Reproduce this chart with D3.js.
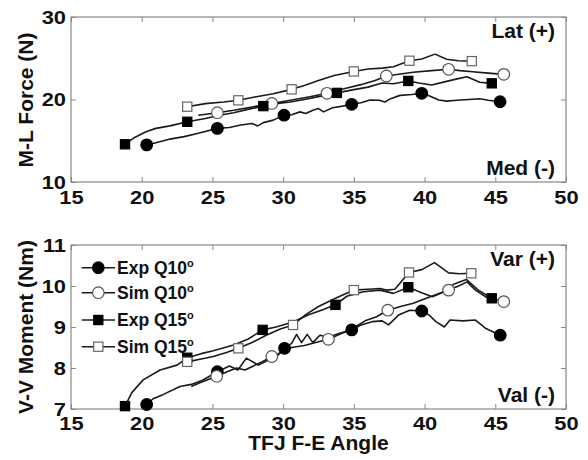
<!DOCTYPE html>
<html><head><meta charset="utf-8">
<script src="https://cdn.jsdelivr.net/npm/d3@7"></script>
<style>
html,body{margin:0;padding:0;background:#fff;}
text{font-family:"Liberation Sans",Arial,sans-serif;font-weight:bold;fill:#111;}
</style></head>
<body><svg id="c" width="588" height="460"></svg>
<script>
// ---------- data ----------
const xTicks = [15,20,25,30,35,40,45,50];
const mlTicks = [10,20,30];
const vvTicks = [7,8,9,10,11];
const seriesNames = ["Exp Q10", "Sim Q10", "Exp Q15", "Sim Q15"];

// M-L Force (N) vs TFJ F-E angle
const expQ10_ml = [[20.35,14.5],[21,14.75],[22,15.2],[23,15.5],[24,15.9],[25.35,16.5],[26.2,16.6],[27,16.9],[27.8,17.1],[28.2,16.8],[28.6,17.2],[29.3,17.5],[30.06,18.1],[30.6,18.15],[31.2,18.5],[31.6,18.3],[32.1,18.7],[32.5,18.9],[32.85,18.5],[33.5,19.0],[34.2,19.2],[34.85,19.42],[35.5,19.6],[36.15,19.94],[36.8,19.9],[37.2,19.7],[37.6,20.1],[38.27,20.5],[39.1,20.6],[39.8,20.75],[40.4,20.4],[41,19.94],[41.56,19.8],[42.3,19.9],[43.1,20.0],[43.9,20.1],[44.5,19.9],[45.34,19.73]];
const expQ10_ml_pts = [[20.35,14.5],[25.35,16.5],[30.06,18.1],[34.85,19.42],[39.8,20.75],[45.34,19.73]];
const simQ10_ml = [[24,18.1],[25.35,18.4],[26.5,18.7],[27.8,19.1],[29.2,19.52],[30.5,19.9],[31.8,20.3],[33.1,20.75],[34.3,21.3],[35.5,21.8],[36.5,22.3],[37.3,22.85],[38.3,23.1],[39.2,23.3],[40.5,23.5],[41.7,23.66],[42.5,23.5],[43.4,23.37],[44.5,23.2],[45.6,23.05]];
const simQ10_ml_pts = [[25.35,18.4],[29.2,19.52],[33.1,20.75],[37.3,22.85],[41.7,23.66],[45.6,23.05]];
const expQ15_ml = [[18.82,14.57],[19.5,15.4],[20.3,16.1],[21,16.5],[22,16.8],[23.22,17.3],[24.5,17.7],[25.5,18.1],[26.5,18.4],[27.5,18.8],[28.6,19.2],[29.5,19.5],[30.5,19.7],[31.5,20.0],[32.5,20.35],[33.8,20.8],[35,21.2],[36,21.5],[37,22.0],[37.8,21.9],[38.85,22.25],[39.6,22.0],[40.5,21.75],[41.56,22.2],[42.3,22.5],[43,22.76],[43.9,22.1],[44.75,21.96]];
const expQ15_ml_pts = [[18.82,14.57],[23.22,17.3],[28.6,19.2],[33.8,20.8],[38.85,22.25],[44.75,21.96]];
const simQ15_ml = [[23.22,19.13],[24.5,19.5],[25.8,19.7],[26.83,19.9],[28,20.3],[29.3,20.7],[30.6,21.23],[31.5,21.7],[32.5,22.3],[33.6,22.9],[35,23.4],[36,23.7],[37,23.8],[37.8,23.97],[38.93,24.7],[39.8,24.9],[40.74,25.5],[41.56,24.87],[42.4,24.7],[43.34,24.65]];
const simQ15_ml_pts = [[23.22,19.13],[26.83,19.9],[30.6,21.23],[35,23.4],[38.93,24.7],[43.34,24.65]];

// V-V Moment (Nm) vs TFJ F-E angle
const expQ10_vv = [[20.35,7.11],[20.8,7.25],[21.5,7.35],[22.7,7.55],[23.5,7.6],[24.3,7.7],[25.35,7.91],[26.2,8.05],[26.8,7.95],[27.4,8.24],[28.25,8.07],[29,8.2],[29.6,8.3],[30.1,8.48],[30.6,8.6],[30.95,8.82],[31.3,8.62],[31.7,8.82],[32.1,8.62],[32.6,8.8],[33.2,8.75],[34,8.85],[34.85,8.93],[35.5,9.05],[36.3,9.13],[37,9.15],[37.45,9.05],[38.2,9.3],[38.95,9.41],[39.8,9.39],[40.3,9.3],[40.8,9.13],[41.4,9.0],[41.8,9.17],[42.7,9.15],[43.6,9.17],[44.3,8.97],[45.35,8.8]];
const expQ10_vv_pts = [[20.35,7.11],[25.35,7.91],[30.1,8.48],[34.85,8.93],[39.8,9.39],[45.35,8.8]];
const simQ10_vv = [[23.5,7.55],[24.2,7.65],[25.3,7.8],[26,7.9],[26.7,8.0],[27.3,7.95],[27.9,8.05],[28.5,8.15],[29.2,8.28],[30,8.4],[30.6,8.5],[31.5,8.55],[32.3,8.62],[33.2,8.7],[34,8.82],[34.85,8.95],[35.8,9.15],[36.6,9.25],[37.4,9.41],[38.3,9.5],[39.2,9.58],[40.4,9.74],[41.7,9.9],[42.4,10.0],[43,10.1],[43.6,9.9],[44.4,9.72],[45.6,9.62]];
const simQ10_vv_pts = [[25.3,7.8],[29.2,8.28],[33.2,8.7],[37.4,9.41],[41.7,9.9],[45.6,9.62]];
const expQ15_vv = [[18.82,7.07],[19.3,7.4],[20.1,7.71],[21.3,7.95],[22.5,8.07],[23.22,8.25],[24.2,8.35],[25.06,8.42],[26.5,8.56],[27.5,8.7],[28.55,8.93],[29.5,9.0],[30.7,9.12],[31.8,9.3],[32.8,9.42],[33.7,9.54],[34.5,9.75],[35.67,9.86],[36.85,9.9],[37.8,9.82],[38.85,9.97],[39.7,9.85],[40.55,9.74],[41.3,9.85],[42.1,10.05],[42.95,10.16],[43.8,9.9],[44.75,9.7]];
const expQ15_vv_pts = [[18.82,7.07],[23.22,8.25],[28.55,8.93],[33.7,9.54],[38.85,9.97],[44.75,9.7]];
const simQ15_vv = [[23.22,8.15],[24.2,8.22],[25.06,8.28],[26,8.38],[26.83,8.48],[27.8,8.62],[28.8,8.8],[29.8,8.95],[30.7,9.05],[31.6,9.3],[32.5,9.5],[33.7,9.7],[35,9.9],[36,9.92],[36.85,9.94],[37.3,9.9],[37.9,9.92],[38.9,10.33],[39.8,10.4],[40.7,10.57],[41.7,10.32],[42.5,10.3],[43.3,10.31]];
const simQ15_vv_pts = [[23.22,8.15],[26.83,8.48],[30.7,9.05],[35,9.9],[38.9,10.33],[43.3,10.31]];

// ---------- drawing ----------
const svg = d3.select("#c");
const L = 71, R = 566;
const styles = [
  {shape:"circle", fill:"#000", stroke:"#000"},
  {shape:"circle", fill:"#fff", stroke:"#555"},
  {shape:"square", fill:"#000", stroke:"#000"},
  {shape:"square", fill:"#fff", stroke:"#666"}
];

function drawMarker(g, x, y, st) {
  if (st.shape === "circle") {
    g.append("circle").attr("cx", x).attr("cy", y).attr("r", 5.8)
      .attr("fill", st.fill).attr("stroke", st.stroke).attr("stroke-width", 1.2);
  } else {
    g.append("rect").attr("x", x - 4.6).attr("y", y - 4.6).attr("width", 9.2).attr("height", 9.2)
      .attr("fill", st.fill).attr("stroke", st.stroke).attr("stroke-width", 1.2);
  }
}

function styleTicks(a) {
  a.select(".domain").remove();
  a.selectAll(".tick line").attr("stroke", "#888").attr("stroke-width", 1);
  a.selectAll("text").style("font-size", "19px").style("font-family", "Liberation Sans, Arial, sans-serif")
    .style("font-weight", "bold").attr("fill", "#111");
}

function panel(top, bottom, yDomain, yTicks, lines, pts, yLabel, upTxt, downTxt, labelCenter, xPad) {
  const x = d3.scaleLinear().domain([15, 50]).range([L, R]);
  const y = d3.scaleLinear().domain(yDomain).range([bottom, top]);
  const g = svg.append("g");

  // inner ticks on all four sides
  const axB = d3.axisBottom(x).tickValues(xTicks).tickSize(-5).tickFormat(d3.format("d")).tickPadding(xPad);
  const axT = d3.axisTop(x).tickValues(xTicks).tickSize(-5).tickFormat("");
  const axLf = d3.axisLeft(y).tickValues(yTicks).tickSize(-5).tickFormat(d3.format("d")).tickPadding(5);
  const axRt = d3.axisRight(y).tickValues(yTicks).tickSize(-5).tickFormat("");
  const gb = g.append("g").attr("transform", `translate(0,${bottom})`).call(axB);
  const gt = g.append("g").attr("transform", `translate(0,${top})`).call(axT);
  const gl = g.append("g").attr("transform", `translate(${L},0)`).call(axLf);
  const gr = g.append("g").attr("transform", `translate(${R},0)`).call(axRt);
  [gb, gt, gl, gr].forEach(styleTicks);
  // wider digits, as in the reference
  gb.selectAll(".tick text").attr("transform", "scale(1.15,1)");
  gl.selectAll(".tick text").attr("transform", "scale(1.15,1)").attr("x", -5 / 1.15);

  g.append("rect").attr("x", L).attr("y", top).attr("width", R - L).attr("height", bottom - top)
    .attr("fill", "none").attr("stroke", "#888").attr("stroke-width", 1.2);

  const line = d3.line().x(d => x(d[0])).y(d => y(d[1]));
  lines.forEach(s => {
    g.append("path").datum(s).attr("d", line).attr("fill", "none")
      .attr("stroke", "#1a1a1a").attr("stroke-width", 1.6).attr("stroke-linejoin", "round");
  });
  pts.forEach((s, i) => {
    s.forEach(d => drawMarker(g, x(d[0]), y(d[1]), styles[i]));
  });

  g.append("text").attr("transform", `translate(33,${labelCenter}) rotate(-90)`)
    .attr("text-anchor", "middle").style("font-size", "21px").text(yLabel);
  g.append("text").attr("x", 555).attr("y", top + 21).attr("text-anchor", "end")
    .style("font-size", "21px").text(upTxt);
  g.append("text").attr("x", 555).attr("y", bottom - 7).attr("text-anchor", "end")
    .style("font-size", "21px").text(downTxt);
  return {x, y, g};
}

panel(17, 182, [10, 30], mlTicks,
  [expQ10_ml, simQ10_ml, expQ15_ml, simQ15_ml],
  [expQ10_ml_pts, simQ10_ml_pts, expQ15_ml_pts, simQ15_ml_pts],
  "M-L Force (N)", "Lat (+)", "Med (-)", 100, 9);

panel(245, 409, [7, 11], vvTicks,
  [expQ10_vv, simQ10_vv, expQ15_vv, simQ15_vv],
  [expQ10_vv_pts, simQ10_vv_pts, expQ15_vv_pts, simQ15_vv_pts],
  "V-V Moment (Nm)", "Var (+)", "Val (-)", 327, 8);

svg.append("text").attr("x", 318.5).attr("y", 450).attr("text-anchor", "middle")
  .style("font-size", "21px").text("TFJ F-E Angle");

// legend
const leg = svg.append("g");
const legY = [267.7, 292.7, 320, 346.7];
seriesNames.forEach((n, i) => {
  leg.append("line").attr("x1", 81.7).attr("x2", 115).attr("y1", legY[i]).attr("y2", legY[i])
    .attr("stroke", "#1a1a1a").attr("stroke-width", 1.6);
  drawMarker(leg, 98.3, legY[i], styles[i]);
  const t = leg.append("text").attr("x", 117).attr("y", legY[i] + 6).style("font-size", "17.5px");
  t.append("tspan").text(n);
  t.append("tspan").attr("dy", -7).style("font-size", "11px").text("o");
});
</script></body></html>
